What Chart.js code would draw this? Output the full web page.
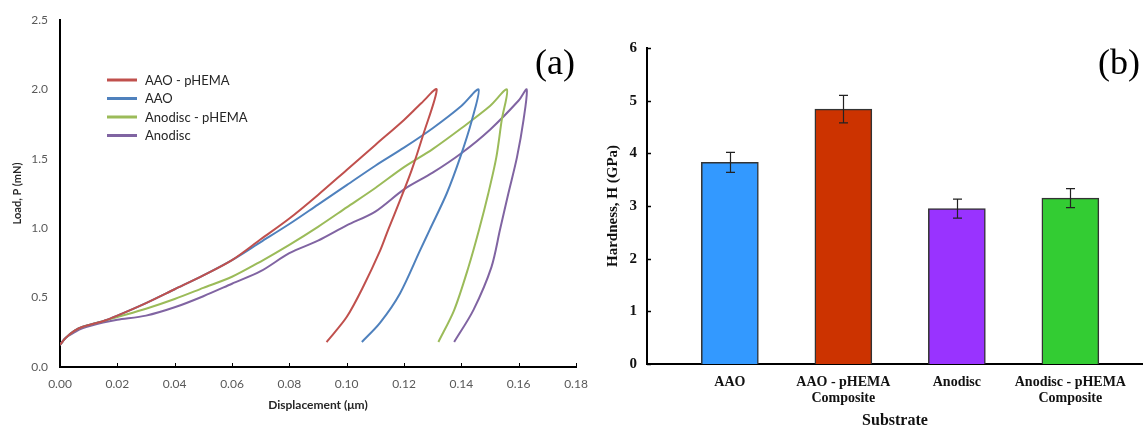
<!DOCTYPE html>
<html><head><meta charset="utf-8">
<script src="https://cdn.jsdelivr.net/npm/chart.js@4.4.0/dist/chart.umd.min.js"></script>
<style>
html,body{margin:0;padding:0;background:#fff;overflow:hidden;width:1143px;height:427px;}
#wa{position:absolute;left:0;top:0;width:600px;height:427px;}
#wb{position:absolute;left:590px;top:0;width:553px;height:427px;}
</style></head><body>
<div id="wa"><canvas id="ca" width="600" height="427"></canvas></div>
<div id="wb"><canvas id="cb" width="553" height="427"></canvas></div>
<script>
// ---------- Panel (a): load–displacement curves ----------
const seriesNames = ['AAO - pHEMA', 'AAO', 'Anodisc - pHEMA', 'Anodisc'];
const seriesColors = ['#C0504D', '#4F81BD', '#9BBB59', '#8064A2'];

const dispAAOpHEMA = [0,0.002,0.005,0.008,0.015,0.02,0.03,0.04,0.05,0.06,0.07,0.08,0.09,0.10,0.11,0.12,0.126,0.1314,
  0.1268,0.1227,0.1186,0.1145,0.1117,0.1058,0.100,0.093];
const loadAAOpHEMA = [0.16,0.21,0.26,0.29,0.33,0.37,0.46,0.56,0.66,0.77,0.92,1.07,1.24,1.42,1.60,1.78,1.90,2.0,
  1.68,1.42,1.20,0.99,0.84,0.58,0.36,0.18];

const dispAAO = [0,0.002,0.005,0.008,0.015,0.02,0.03,0.04,0.05,0.06,0.07,0.08,0.09,0.10,0.11,0.12,0.13,0.14,0.146,
  0.1437,0.1396,0.1349,0.1290,0.1256,0.1186,0.1117,0.1053];
const loadAAO = [0.16,0.21,0.26,0.29,0.33,0.37,0.46,0.56,0.66,0.77,0.90,1.03,1.17,1.31,1.45,1.58,1.72,1.88,2.0,
  1.78,1.51,1.25,0.99,0.84,0.53,0.32,0.18];

const dispAnodiscPHEMA = [0,0.002,0.005,0.008,0.015,0.02,0.03,0.04,0.05,0.06,0.07,0.08,0.09,0.10,0.11,0.12,0.13,0.14,0.15,0.1559,
  0.1541,0.1522,0.1494,0.1462,0.1425,0.1375,0.132];
const loadAnodiscPHEMA = [0.16,0.21,0.26,0.29,0.33,0.36,0.42,0.49,0.57,0.65,0.76,0.88,1.01,1.15,1.29,1.44,1.57,1.72,1.88,2.0,
  1.78,1.51,1.25,0.99,0.72,0.41,0.18];

const dispAnodisc = [0,0.002,0.005,0.008,0.015,0.02,0.03,0.04,0.05,0.06,0.07,0.08,0.09,0.10,0.11,0.12,0.13,0.14,0.15,0.16,0.1628,
  0.1617,0.1594,0.1564,0.1535,0.1505,0.1442,0.1375];
const loadAnodisc = [0.16,0.21,0.25,0.28,0.32,0.34,0.37,0.43,0.51,0.60,0.69,0.82,0.91,1.02,1.12,1.28,1.40,1.54,1.71,1.92,2.0,
  1.78,1.51,1.25,0.99,0.72,0.41,0.18];

const dispTicks = [0,0.02,0.04,0.06,0.08,0.10,0.12,0.14,0.16,0.18];
const loadTicks = [0,0.5,1.0,1.5,2.0,2.5];

const seriesX = [dispAAOpHEMA, dispAAO, dispAnodiscPHEMA, dispAnodisc];
const seriesY = [loadAAOpHEMA, loadAAO, loadAnodiscPHEMA, loadAnodisc];

// ---------- Panel (b): hardness bars ----------
const substrateLabels = [['AAO'], ['AAO - pHEMA', 'Composite'], ['Anodisc'], ['Anodisc - pHEMA', 'Composite']];
const hardness = [3.83, 4.84, 2.95, 3.15];
const hardnessErr = [0.19, 0.26, 0.18, 0.18];
const barColors = ['#3399FF', '#CC3300', '#9933FF', '#33CC33'];
const hardnessTicks = [0,1,2,3,4,5,6];

Chart.defaults.animation = false;

const legendA = {
  id: 'legendA',
  afterDraw(chart) {
    const ctx = chart.ctx;
    ctx.save();
    chart.data.datasets.forEach((ds, i) => {
      const y = 80 + i * 18.5;
      ctx.strokeStyle = ds.borderColor;
      ctx.lineWidth = 3;
      ctx.beginPath(); ctx.moveTo(107, y); ctx.lineTo(137, y); ctx.stroke();
      ctx.fillStyle = '#262626';
      ctx.font = '13px Lato';
      ctx.textBaseline = 'middle';
      ctx.textAlign = 'left';
      ctx.fillText(ds.label, 145, y + 0.5);
    });
    // small inward tick marks on x axis
    const xs = chart.scales.x;
    ctx.strokeStyle = '#000'; ctx.lineWidth = 1;
    xs.ticks.forEach(t => {
      const px = Math.round(xs.getPixelForValue(t.value)) + 0.5;
      ctx.beginPath(); ctx.moveTo(px, xs.top); ctx.lineTo(px, xs.top - 4); ctx.stroke();
    });
    ctx.fillStyle = '#000';
    ctx.font = '36px "Liberation Serif"';
    ctx.textBaseline = 'alphabetic';
    ctx.fillText('(a)', 535, 74);
    ctx.restore();
  }
};

new Chart(document.getElementById('ca'), {
  type: 'scatter',
  data: {
    datasets: seriesNames.map((name, i) => ({
      label: name,
      data: seriesX[i].map((x, j) => ({x: x, y: seriesY[i][j]})),
      showLine: true,
      borderColor: seriesColors[i],
      backgroundColor: seriesColors[i],
      borderWidth: 2,
      pointRadius: 0,
      tension: 0.3,
      fill: false
    }))
  },
  options: {
    responsive: false, devicePixelRatio: 1, animation: false,
    layout: {padding: {left: 0, top: 20, right: 24, bottom: 0}},
    plugins: {legend: {display: false}, tooltip: {enabled: false}},
    scales: {
      x: {
        type: 'linear', min: 0, max: 0.18,
        afterBuildTicks: s => { s.ticks = dispTicks.map(v => ({value: v})); },
        afterFit: s => { s.height = 60; },
        ticks: {callback: v => Number(v).toFixed(2), color: '#595959', font: {family: 'Lato', size: 12}, padding: 10, maxRotation: 0, autoSkip: false},
        grid: {display: false, drawTicks: false},
        border: {color: '#000', width: 2},
        title: {display: true, text: 'Displacement (μm)', color: '#262626', font: {family: 'Lato', size: 12, weight: 'bold'}, padding: {top: 0, bottom: 15}}
      },
      y: {
        type: 'linear', min: 0, max: 2.5,
        afterBuildTicks: s => { s.ticks = loadTicks.map(v => ({value: v})); },
        afterFit: s => { s.width = 60; },
        ticks: {callback: v => Number(v).toFixed(1), color: '#595959', font: {family: 'Lato', size: 12}, padding: 12, autoSkip: false},
        grid: {display: false, drawTicks: false},
        border: {color: '#000', width: 2},
        title: {display: true, text: 'Load, P (mN)', color: '#262626', font: {family: 'Lato', size: 11, weight: 'bold'}, padding: {top: 11, bottom: 0}}
      }
    }
  },
  plugins: [legendA]
});

const errBars = {
  id: 'errBars',
  afterDatasetsDraw(chart) {
    const {ctx, scales: {x, y}} = chart;
    ctx.save();
    ctx.strokeStyle = '#222'; ctx.lineWidth = 1.2;
    hardness.forEach((h, i) => {
      const px = Math.round(x.getPixelForValue(i)) + 0.5;
      const t = y.getPixelForValue(h + hardnessErr[i]);
      const b = y.getPixelForValue(h - hardnessErr[i]);
      ctx.beginPath();
      ctx.moveTo(px, t); ctx.lineTo(px, b);
      ctx.moveTo(px - 4.5, t); ctx.lineTo(px + 4.5, t);
      ctx.moveTo(px - 4.5, b); ctx.lineTo(px + 4.5, b);
      ctx.stroke();
    });
    // inward tick marks on y axis
    ctx.strokeStyle = '#000'; ctx.lineWidth = 1.5;
    y.ticks.forEach(t => {
      const py = Math.round(y.getPixelForValue(t.value)) + 0.5;
      ctx.beginPath(); ctx.moveTo(y.right, py); ctx.lineTo(y.right + 4, py); ctx.stroke();
    });
    ctx.fillStyle = '#000';
    ctx.font = '36px "Liberation Serif"';
    ctx.textBaseline = 'alphabetic';
    ctx.textAlign = 'left';
    ctx.fillText('(b)', 508, 74);
    ctx.restore();
  }
};

new Chart(document.getElementById('cb'), {
  type: 'bar',
  data: {
    datasets: [{
      label: 'Hardness',
      data: hardness.map((h, i) => ({x: i, y: h})),
      backgroundColor: barColors,
      borderColor: '#333',
      borderWidth: 1.5,
      barThickness: 57
    }]
  },
  options: {
    responsive: false, devicePixelRatio: 1, animation: false,
    layout: {padding: {left: 0, top: 48, right: 0, bottom: 0}},
    plugins: {legend: {display: false}, tooltip: {enabled: false}},
    scales: {
      x: {
        type: 'linear', min: -0.73, max: 3.64, offset: false,
        afterBuildTicks: s => { s.ticks = substrateLabels.map((l, i) => ({value: i})); },
        afterFit: s => { s.height = 63; },
        ticks: {callback: (v) => substrateLabels[v], color: '#111', font: {family: 'Liberation Serif', size: 14, weight: 'bold', lineHeight: 1.15}, padding: 10, maxRotation: 0, autoSkip: false},
        grid: {display: false, drawTicks: false, offset: false},
        border: {color: '#000', width: 2},
        title: {display: true, text: 'Substrate', color: '#111', font: {family: 'Liberation Serif', size: 16, weight: 'bold', lineHeight: 0.75}, padding: {top: 0, bottom: 0}}
      },
      y: {
        type: 'linear', min: 0, max: 6, beginAtZero: true,
        afterBuildTicks: s => { s.ticks = hardnessTicks.map(v => ({value: v})); },
        afterFit: s => { s.width = 57; },
        ticks: {color: '#111', font: {family: 'Liberation Serif', size: 15, weight: 'bold'}, padding: 10, autoSkip: false},
        grid: {display: false, drawTicks: false},
        border: {color: '#000', width: 2},
        title: {display: true, text: 'Hardness, H (GPa)', color: '#111', font: {family: 'Liberation Serif', size: 15, weight: 'bold'}, padding: {top: 14, bottom: 0}}
      }
    }
  },
  plugins: [errBars]
});
</script>
</body></html>
